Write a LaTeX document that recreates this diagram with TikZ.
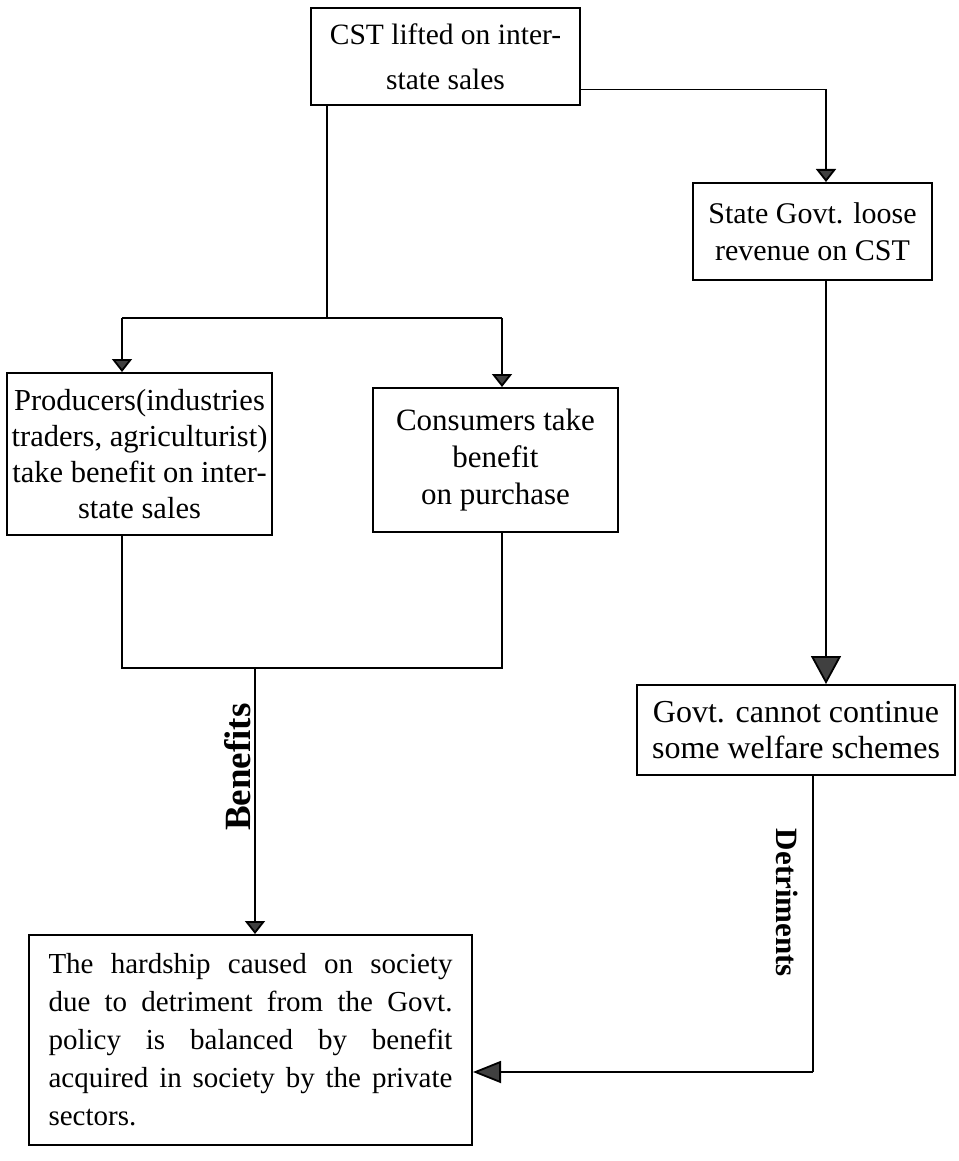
\documentclass[tikz,border=0pt]{standalone}
\usepackage{fontspec}
\setmainfont{Liberation Serif}
\usetikzlibrary{arrows.meta,calc}
\tikzset{
  box/.style={draw=black, line width=2pt, fill=white, align=center, inner sep=1pt},
  conn/.style={draw=black, line width=1.8pt},
  arr/.style={conn, -{Triangle[length=13pt,width=20pt,fill=black!75]}},
  bigarr/.style={conn, -{Triangle[length=28pt,width=30pt,fill=black!75]}},
  sidearr/.style={conn, -{Triangle[length=28pt,width=22pt,fill=black!75]}},
}
\newcommand{\spreadline}[1]{\makebox[404pt][s]{#1}}
\begin{document}
\begin{tikzpicture}[x=1pt,y=-1pt]
\useasboundingbox (0,0) rectangle (958,1161);
\fill[white] (0,0) rectangle (958,1161);

\node[box, minimum width=269pt, minimum height=97pt, font=\fontsize{29.5}{45}\selectfont] (cst) at (445.5,57) {CST lifted on inter-\\state sales};
\node[box, minimum width=239pt, minimum height=97pt, font=\fontsize{30}{37}\selectfont] (state) at (812.5,231.5) {State Govt. loose\\revenue on CST};
\node[box, minimum width=265pt, minimum height=162pt, font=\fontsize{30.5}{36}\selectfont] (prod) at (139.5,454) {Producers(industries\\traders, agriculturist)\\take benefit on inter-\\state sales};
\node[box, minimum width=245pt, minimum height=144pt, font=\fontsize{31}{37}\selectfont] (cons) at (495.5,460) {Consumers take\\benefit\\on purchase};
\node[box, minimum width=318pt, minimum height=90pt, font=\fontsize{32}{36}\selectfont] (govt) at (796,730) {Govt. cannot continue\\some welfare schemes};
\node[box, minimum width=443pt, minimum height=210pt, align=left, inner sep=0pt, font=\fontsize{29}{38}\selectfont] (hard) at (250.5,1040)
  {\spreadline{The hardship caused on society}\\
   \spreadline{due to detriment from the Govt.}\\
   \spreadline{policy is balanced by benefit}\\
   \spreadline{acquired in society by the private}\\
   sectors.};

% top split
\coordinate (split) at (327,318);
\coordinate (pl) at (122,318);
\coordinate (pr) at (502,318);
\draw[conn] (cst.south -| split) -- (split);
\draw[conn] (pl) -- (pr);
\draw[arr] (pl) -- (pl |- prod.north);
\draw[arr] (pr) -- (pr |- cons.north);

% right branch
\draw[arr] ([yshift=17pt]cst.south east) -| ([xshift=13.5pt]state.north);
\draw[bigarr] ([xshift=13.5pt]state.south) -- ([xshift=30pt]govt.north);

% join
\coordinate (jl) at (122,668);
\coordinate (jr) at (502,668);
\coordinate (jm) at (255,668);
\draw[conn] (jl |- prod.south) -- (jl) -- (jr) -- (jr |- cons.south);
\draw[arr] (jm) -- (jm |- hard.north);
\node[inner sep=0pt, rotate=90, font=\fontsize{37}{40}\selectfont\bfseries] (ben) at (238,767) {Benefits};

% detriments
\coordinate (dc) at (813,1072);
\draw[conn] (dc |- govt.south) -- (dc);
\draw[sidearr] (dc) -- (dc -| hard.east);
\node[inner sep=0pt, rotate=-90, font=\fontsize{31}{34}\selectfont\bfseries] (det) at (787,903) {Detriments};
\end{tikzpicture}
\end{document}
